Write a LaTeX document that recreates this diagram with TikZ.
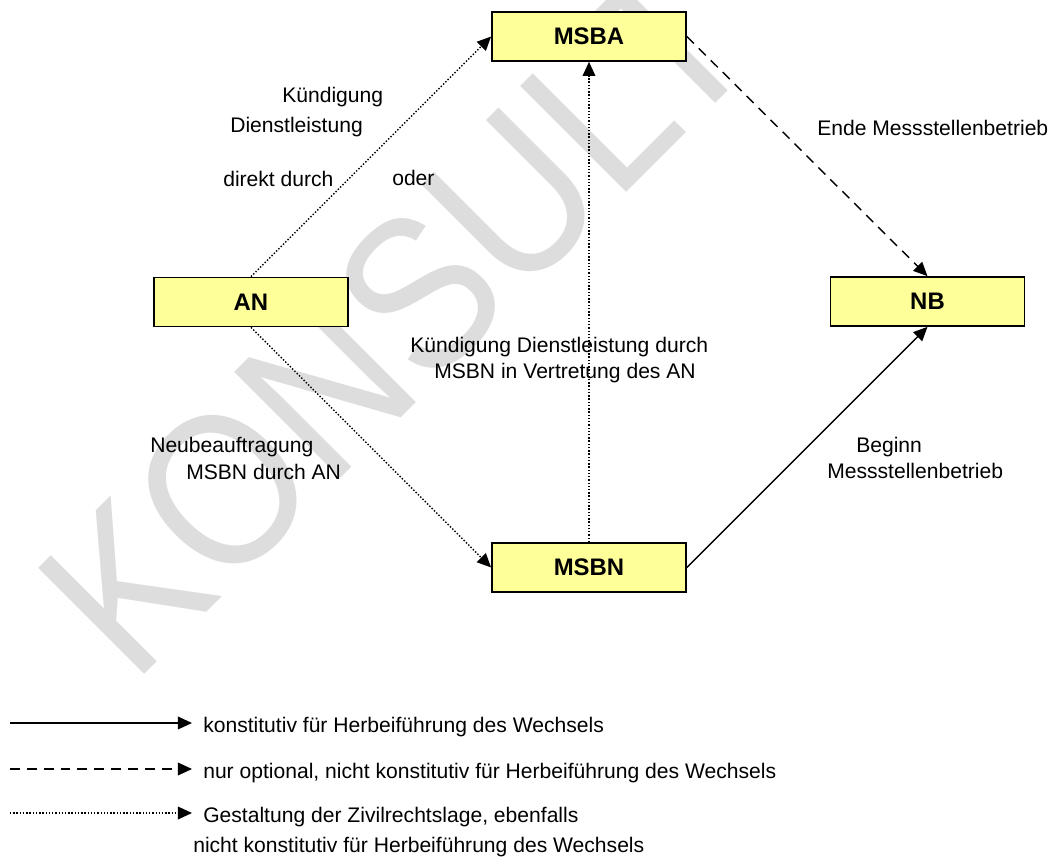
\documentclass[tikz,border=0pt]{standalone}
\usepackage{fontspec}
\setmainfont{Liberation Sans}
\usetikzlibrary{arrows.meta}
\definecolor{boxyellow}{RGB}{255,255,153}
\definecolor{markgray}{RGB}{221,221,221}
\tikzset{
  box/.style={draw, line width=1.2pt, fill=boxyellow, minimum width=4.85cm,
    minimum height=1.225cm, font=\bfseries\fontsize{17}{20}\selectfont},
  lbl/.style={inner sep=0pt, anchor=base west, font=\fontsize{15}{19}\selectfont},
  pfeil/.style={-{Triangle[length=10pt,width=9pt]}},
  arrkonst/.style={pfeil, line width=1pt},
  arropt/.style={pfeil, line width=1pt, dash pattern=on 7pt off 5pt},
  arrziv/.style={pfeil, line width=1pt, dash pattern=on 1pt off 1.3pt},
}

\begin{document}
\begin{tikzpicture}[x=0.025cm, y=-0.025cm]
			\useasboundingbox (0,0) rectangle (1061,860);
			% Watermark
			\node[inner sep=0pt, anchor=base west, rotate=45, text=markgray,
			  font=\fontsize{155}{155}\selectfont] (mark) at (133,686)
			  {\scalebox{0.88}[1]{KONSULT}};
			% Boxes
			\node[box] (msba) at (589,36.5) {MSBA};
			\node[box] (an) at (251,302) {AN};
			\node[box] (nb) at (927.5,301.5) {NB};
			\node[box] (msbn) at (589,567.5) {MSBN};
			% Connectors
			\draw[arrziv] (an.north) -- (msba.west);
			\draw[arrziv] (an.south) -- (msbn.west);
			\draw[arrziv] (msbn.north) -- (msba.south);
			\draw[arropt] (msba.east) -- (nb.north);
			\draw[arrkonst] (msbn.east) -- (nb.south);
			% Labels
			\node[lbl] (kuend) at (282,103) {Kündigung};
			\node[lbl] (dienst) at (230,133) {Dienstleistung};
			\node[lbl] (direkt) at (223,187) {direkt durch};
			\node[lbl] (oder) at (392,186) {oder};
			\node[lbl] (ende) at (817,136) {Ende Messstellenbetrieb};
			\node[lbl] (kdA) at (410,352) {Kündigung Dienstleistung durch};
			\node[lbl] (kdB) at (434,378) {MSBN in Vertretung des AN};
			\node[lbl] (neuA) at (150,452) {Neubeauftragung};
			\node[lbl] (neuB) at (186,479) {MSBN durch AN};
			\node[lbl] (begA) at (856,452) {Beginn};
			\node[lbl] (begB) at (827,478) {Messstellenbetrieb};
			% Legend
			\coordinate (konstA) at (10,723);
			\coordinate (konstB) at (192,723);
			\coordinate (optA) at (10,769);
			\coordinate (optB) at (192,769);
			\coordinate (zivA) at (10,813);
			\coordinate (zivB) at (192,813);
			\draw[arrkonst] (konstA) -- (konstB);
			\draw[arropt] (optA) -- (optB);
			\draw[arrziv] (zivA) -- (zivB);
			\node[lbl] (legKonst) at (203,732) {konstitutiv für Herbeiführung des Wechsels};
			\node[lbl] (legOpt) at (203,778) {nur optional, nicht konstitutiv für Herbeiführung des Wechsels};
			\node[lbl] (legZivA) at (203,822) {Gestaltung der Zivilrechtslage, ebenfalls};
			\node[lbl] (legZivB) at (193,852) {nicht konstitutiv für Herbeiführung des Wechsels};
		\end{tikzpicture}
\end{document}
